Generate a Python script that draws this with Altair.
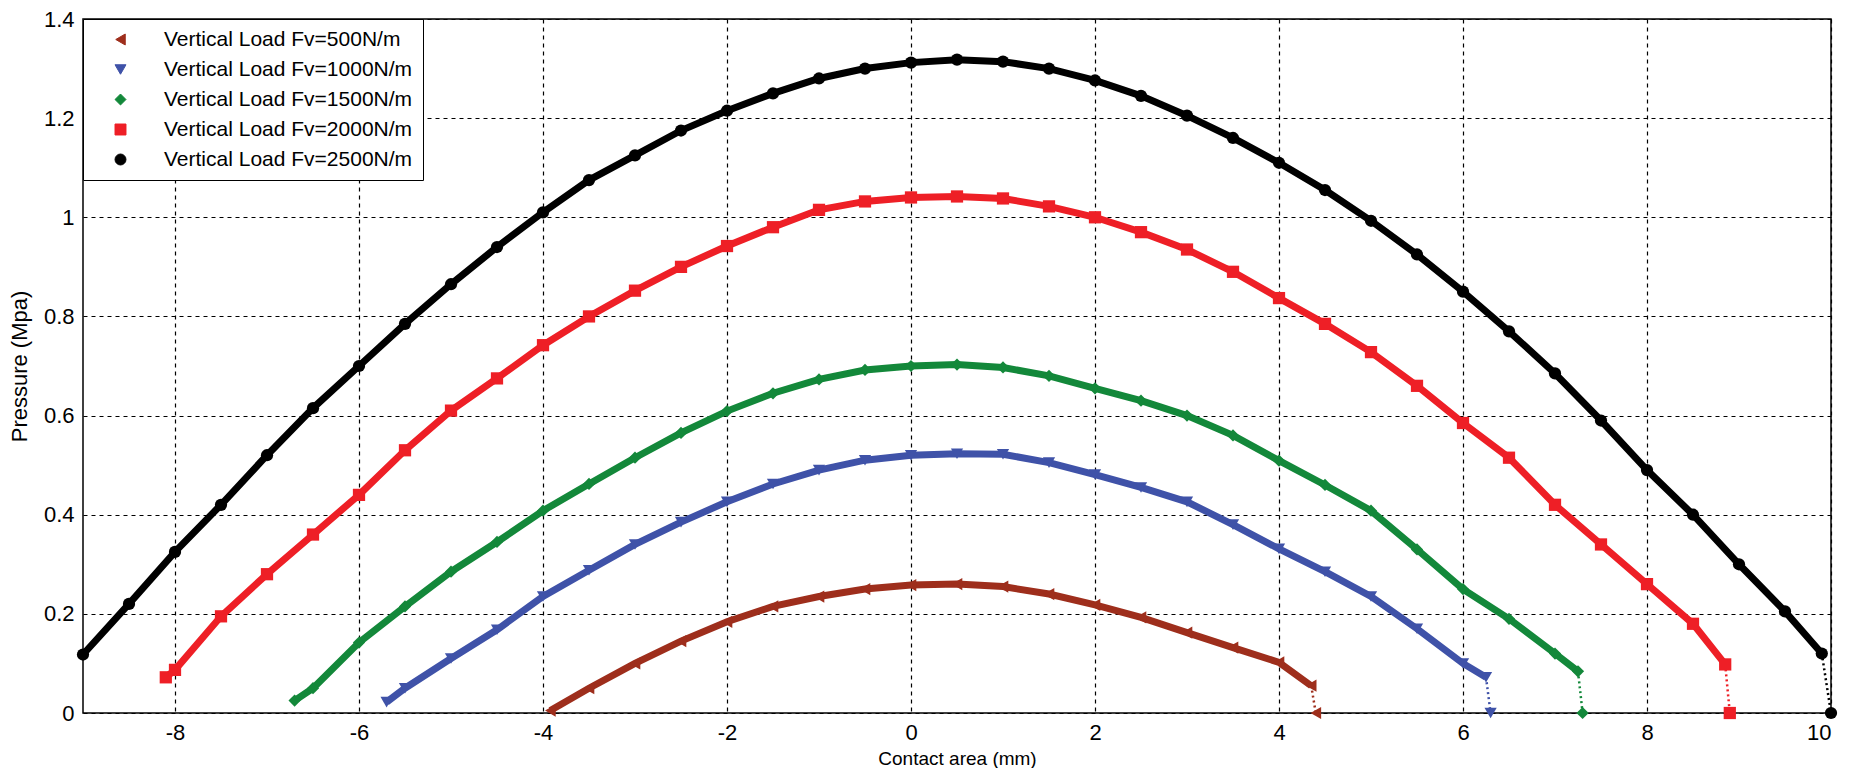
import altair as alt
import pandas as pd

series_names = [
    "Vertical Load Fv=500N/m",
    "Vertical Load Fv=1000N/m",
    "Vertical Load Fv=1500N/m",
    "Vertical Load Fv=2000N/m",
    "Vertical Load Fv=2500N/m",
]
series_colors = ["#9E2E1C", "#3F52A8", "#13883A", "#EE1F26", "#000000"]
series_shapes = ["triangle-left", "triangle-down", "diamond", "square", "circle"]

x_500 = [-3.92, -3.5, -3.0, -2.5, -2.0, -1.5, -1.0, -0.5, 0.0, 0.5, 1.0, 1.5, 2.0, 2.5, 3.0, 3.5, 4.0, 4.35, 4.4]
p_500 = [0.005, 0.05, 0.10, 0.145, 0.184, 0.215, 0.235, 0.25, 0.258, 0.26, 0.255, 0.24, 0.218, 0.193, 0.162, 0.132, 0.102, 0.055, 0.0]

x_1000 = [-5.7, -5.5, -5.0, -4.5, -4.0, -3.5, -3.0, -2.5, -2.0, -1.5, -1.0, -0.5, 0.0, 0.5, 1.0, 1.5, 2.0, 2.5, 3.0, 3.5, 4.0, 4.5, 5.0, 5.5, 6.0, 6.25, 6.3]
p_1000 = [0.022, 0.05, 0.11, 0.168, 0.235, 0.288, 0.34, 0.385, 0.426, 0.462, 0.49, 0.51, 0.52, 0.523, 0.522, 0.505, 0.481, 0.455, 0.426, 0.38, 0.331, 0.285, 0.235, 0.17, 0.10, 0.072, 0.0]

x_1500 = [-6.7, -6.5, -6.0, -5.5, -5.0, -4.5, -4.0, -3.5, -3.0, -2.5, -2.0, -1.5, -1.0, -0.5, 0.0, 0.5, 1.0, 1.5, 2.0, 2.5, 3.0, 3.5, 4.0, 4.5, 5.0, 5.5, 6.0, 6.5, 7.0, 7.25, 7.3]
p_1500 = [0.025, 0.05, 0.142, 0.215, 0.285, 0.345, 0.408, 0.462, 0.515, 0.565, 0.609, 0.645, 0.673, 0.692, 0.70, 0.703, 0.697, 0.68, 0.655, 0.63, 0.60, 0.56, 0.509, 0.46, 0.408, 0.33, 0.25, 0.19, 0.12, 0.084, 0.0]

x_2000 = [-8.1, -8.0, -7.5, -7.0, -6.5, -6.0, -5.5, -5.0, -4.5, -4.0, -3.5, -3.0, -2.5, -2.0, -1.5, -1.0, -0.5, 0.0, 0.5, 1.0, 1.5, 2.0, 2.5, 3.0, 3.5, 4.0, 4.5, 5.0, 5.5, 6.0, 6.5, 7.0, 7.5, 8.0, 8.5, 8.85, 8.9]
p_2000 = [0.072, 0.087, 0.195, 0.28, 0.36, 0.44, 0.53, 0.61, 0.675, 0.742, 0.80, 0.852, 0.90, 0.942, 0.98, 1.015, 1.032, 1.04, 1.042, 1.038, 1.022, 1.0, 0.97, 0.935, 0.89, 0.837, 0.785, 0.728, 0.66, 0.585, 0.515, 0.42, 0.34, 0.26, 0.18, 0.098, 0.0]

x_2500 = [-9.0, -8.5, -8.0, -7.5, -7.0, -6.5, -6.0, -5.5, -5.0, -4.5, -4.0, -3.5, -3.0, -2.5, -2.0, -1.5, -1.0, -0.5, 0.0, 0.5, 1.0, 1.5, 2.0, 2.5, 3.0, 3.5, 4.0, 4.5, 5.0, 5.5, 6.0, 6.5, 7.0, 7.5, 8.0, 8.5, 9.0, 9.5, 9.9, 10.0]
p_2500 = [0.118, 0.22, 0.325, 0.42, 0.52, 0.615, 0.70, 0.785, 0.865, 0.94, 1.01, 1.075, 1.125, 1.175, 1.215, 1.25, 1.28, 1.30, 1.312, 1.318, 1.314, 1.30, 1.276, 1.245, 1.205, 1.16, 1.11, 1.055, 0.993, 0.925, 0.85, 0.77, 0.685, 0.59, 0.49, 0.40, 0.30, 0.205, 0.12, 0.0]

x_ticks = [-8, -6, -4, -2, 0, 2, 4, 6, 8, 10]
y_ticks = [0, 0.2, 0.4, 0.6, 0.8, 1.0, 1.2, 1.4]

all_x = [x_500, x_1000, x_1500, x_2000, x_2500]
all_p = [p_500, p_1000, p_1500, p_2000, p_2500]

rows = []
for name, xs, ps in zip(series_names, all_x, all_p):
    n = len(xs)
    for i, (xv, pv) in enumerate(zip(xs, ps)):
        rows.append({"series": name, "x": xv, "p": pv, "i": i, "n": n})
df = pd.DataFrame(rows)
body = df[df["i"] < df["n"] - 1]
tail = df[df["i"] >= df["n"] - 2]

FONT = "Liberation Sans"
LABEL_EXPR = "datum.value < 0 ? '-' + format(-datum.value, '~g') : format(datum.value, '~g')"

legend = alt.Legend(
    title=None,
    orient="top-left",
    offset=0,
    fillColor="white",
    strokeColor="black",
    padding=10,
    labelFont=FONT,
    labelFontSize=21,
    labelColor="black",
    labelLimit=500,
    rowPadding=8,
    symbolSize=120,
    symbolOffset=17,
    labelOffset=33,
    symbolStrokeWidth=1,
)

x_enc = alt.X(
    "x:Q",
    scale=alt.Scale(domain=[-9, 10], nice=False, zero=False),
    axis=alt.Axis(values=x_ticks, labelExpr=LABEL_EXPR, title="Contact area (mm)",
                  labelPadding=9, titlePadding=6, titleFontSize=19),
)
y_enc = alt.Y(
    "p:Q",
    scale=alt.Scale(domain=[0, 1.4], nice=False),
    axis=alt.Axis(values=y_ticks, labelExpr=LABEL_EXPR, title="Pressure (Mpa)",
                  labelPadding=9, titlePadding=12, titleFontSize=22),
)
color_enc = alt.Color(
    "series:N",
    scale=alt.Scale(domain=series_names, range=series_colors),
    legend=legend,
    sort=series_names,
)
shape_enc = alt.Shape(
    "series:N",
    scale=alt.Scale(domain=series_names, range=series_shapes),
    legend=legend,
    sort=series_names,
)

lines = alt.Chart(body).mark_line(strokeWidth=7).encode(
    x=x_enc, y=y_enc, color=color_enc, detail="series:N", order="i:Q"
)
tails = alt.Chart(tail).mark_line(strokeWidth=2.5, strokeDash=[2, 3]).encode(
    x=x_enc, y=y_enc, color=color_enc, detail="series:N", order="i:Q"
)
points = alt.Chart(df).mark_point(filled=True, size=150, opacity=1).encode(
    x=x_enc, y=y_enc, color=color_enc, shape=shape_enc
)

chart = (
    alt.layer(lines, tails, points)
    .properties(
        width=1834,
        height=760,
        autosize=alt.AutoSizeParams(type="fit", contains="padding"),
        padding={"left": 0, "top": 0, "right": 4, "bottom": 0},
        background="white",
    )
    .configure_view(stroke="black", strokeWidth=1.5)
    .configure_axis(
        grid=True,
        gridColor="black",
        gridDash=[4, 4],
        gridWidth=1.2,
        gridOpacity=1,
        domain=False,
        ticks=False,
        labelFont=FONT,
        labelFontSize=22,
        labelColor="black",
        titleFont=FONT,
        titleFontWeight="normal",
        titleColor="black",
    )
)

chart.save("out.html", embed_options={"renderer": "svg", "actions": False})
